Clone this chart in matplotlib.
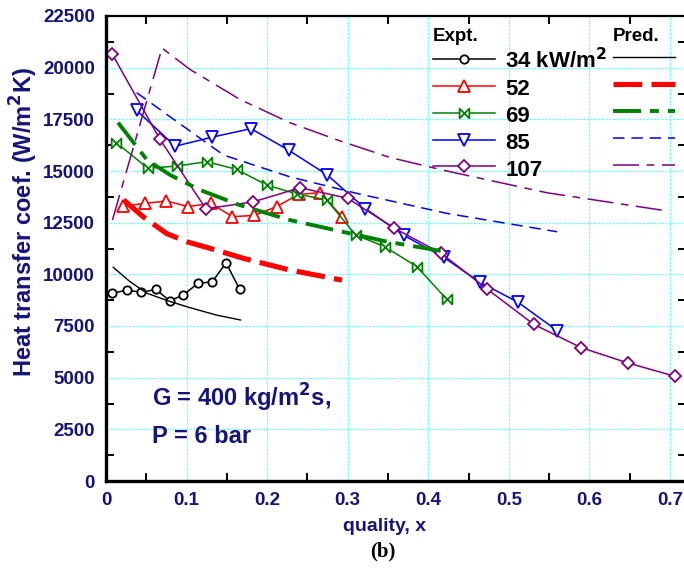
import numpy as np
import matplotlib
matplotlib.use("Agg")
import matplotlib.pyplot as plt
from matplotlib.path import Path

plt.rcParams['font.family'] = ['Liberation Sans', 'DejaVu Sans']

navy = '#14147a'

# experimental data (quality x, h in W/m2K)
x34 = [0.008, 0.026, 0.044, 0.062, 0.079, 0.096, 0.114, 0.132, 0.149, 0.166]
h34 = [9080, 9240, 9130, 9270, 8720, 9000, 9560, 9640, 10560, 9270]
x52 = [0.021, 0.048, 0.075, 0.102, 0.130, 0.157, 0.184, 0.212, 0.239, 0.266, 0.293]
h52 = [13300, 13430, 13550, 13280, 13430, 12790, 12850, 13280, 13870, 13950, 12790]
x69 = [0.013, 0.052, 0.088, 0.125, 0.162, 0.200, 0.237, 0.274, 0.310, 0.346, 0.386, 0.423]
h69 = [16370, 15130, 15240, 15450, 15080, 14310, 13890, 13600, 11900, 11340, 10370, 8790]
x85 = [0.038, 0.086, 0.132, 0.180, 0.227, 0.274, 0.322, 0.370, 0.419, 0.464, 0.511, 0.560]
h85 = [17930, 16200, 16640, 17050, 16000, 14830, 13180, 11880, 10830, 9620, 8660, 7280]
x107 = [0.008, 0.067, 0.124, 0.183, 0.241, 0.300, 0.358, 0.416, 0.473, 0.531, 0.590, 0.648, 0.706]
h107 = [20640, 16530, 13170, 13510, 14190, 13680, 12230, 11020, 9290, 7580, 6450, 5710, 5070]

# predictions
px34 = [0.009, 0.030, 0.051, 0.080, 0.104, 0.137, 0.167]
ph34 = [10340, 9640, 9080, 8680, 8390, 8030, 7790]
px52 = [0.022, 0.046, 0.075, 0.100, 0.129, 0.171, 0.228, 0.293]
ph52 = [13600, 12790, 11980, 11580, 11260, 10770, 10210, 9720]
px69 = [0.015, 0.051, 0.080, 0.117, 0.166, 0.228, 0.303, 0.349, 0.421]
ph69 = [17340, 15530, 14800, 14080, 13350, 12630, 11980, 11580, 11100]
px85 = [0.038, 0.084, 0.146, 0.228, 0.311, 0.423, 0.560]
ph85 = [18790, 17500, 15770, 14720, 13920, 12950, 12060]
px107 = [0.008, 0.0695, 0.104, 0.166, 0.228, 0.291, 0.353, 0.423, 0.547, 0.696]
ph107 = [12630, 20950, 19920, 18470, 17340, 16450, 15650, 15000, 13950, 13070]

labels = ['34 kW/m$\\mathbf{^2}$', '52', '69', '85', '107']

bowtie = Path([(-1, -1), (-1, 1), (1, -1), (1, 1), (-1, -1)],
              [Path.MOVETO, Path.LINETO, Path.LINETO, Path.LINETO, Path.CLOSEPOLY])

fig = plt.figure(figsize=(6.84, 5.71), dpi=100)
ax = fig.add_axes([106/684, 1 - 481/571, 580/684, 465/571])

ax.grid(True, which='major', color='#70ffff', lw=0.9, ls=(0, (2, 1)), zorder=0)

e1, = ax.plot(x34, h34, '-o', color='black', lw=1.1, ms=6, mfc='white', mew=1.3)
e2, = ax.plot(x52, h52, '-^', color='red', lw=1.1, ms=8, mfc='white', mew=1.3)
e3, = ax.plot(x69, h69, '-', marker=bowtie, color='green', lw=1.1, ms=7, mfc='white', mew=1.3)
e4, = ax.plot(x85, h85, '-v', color='blue', lw=1.1, ms=8, mfc='white', mew=1.3)
e5, = ax.plot(x107, h107, '-D', color='purple', lw=1.1, ms=6, mfc='white', mew=1.3)

p1, = ax.plot(px34, ph34, '-', color='black', lw=1.0)
p2, = ax.plot(px52, ph52, '--', color='red', lw=3.7, dashes=(5.6, 1.8))
p3, = ax.plot(px69, ph69, '-.', color='green', lw=2.8, dashes=(7.2, 2.3, 2.3, 2.3))
p4, = ax.plot(px85, ph85, '--', color='blue', lw=1.1, dashes=(7.5, 4.5))
p5, = ax.plot(px107, ph107, '-.', color='purple', lw=1.1, dashes=(17, 5, 5, 5))

ax.set_xlim(0, 0.72)
ax.set_ylim(0, 22500)
ax.set_xticks(np.arange(0, 0.71, 0.1))
ax.set_xticklabels(['0', '0.1', '0.2', '0.3', '0.4', '0.5', '0.6', '0.7'])
ax.set_xticks(np.arange(0.05, 0.72, 0.1), minor=True)
ax.set_yticks(np.arange(0, 22501, 2500))
ax.set_yticks(np.arange(1250, 22500, 2500), minor=True)
ax.tick_params(which='major', length=0, labelsize=13.5, labelcolor=navy, pad=8)
ax.tick_params(which='minor', direction='in', length=6, width=1.4,
               top=True, right=True)
for lab in ax.get_xticklabels() + ax.get_yticklabels():
    lab.set_fontweight('bold')
for s in ['left', 'bottom']:
    ax.spines[s].set_linewidth(2.4)
for s in ['top', 'right']:
    ax.spines[s].set_linewidth(1.6)

ax.set_ylabel('Heat transfer coef. (W/m$\\mathbf{^2}$K)', fontsize=17,
              fontweight='bold', color=navy)
ax.yaxis.set_label_coords(-0.113, 0.558)
ax.set_xlabel('quality, x', fontsize=14, fontweight='bold', color=navy)
ax.xaxis.set_label_coords(0.481, -0.08)

ax.text(0.079, 0.159, 'G = 400 kg/m$\\mathbf{^2}$s,', transform=ax.transAxes,
        fontsize=17, fontweight='bold', color=navy, va='baseline')
ax.text(0.079, 0.082, 'P = 6 bar', transform=ax.transAxes,
        fontsize=17, fontweight='bold', color=navy, va='baseline')

fig.text(383/684, 1 - 551/571, '(b)', fontsize=15, fontweight='bold',
         family='Liberation Serif', ha='center', va='center')

leg_kw = dict(frameon=False, loc='upper left', borderpad=0, borderaxespad=0,
              handlelength=2.8, handleheight=1.15, handletextpad=0.45,
              labelspacing=0.15,
              prop={'weight': 'bold', 'size': 16},
              title_fontproperties={'weight': 'bold', 'size': 13.5},
              alignment='left')
leg1 = ax.legend([e1, e2, e3, e4, e5], labels, title='Expt.',
                 bbox_to_anchor=(0.564, 0.975), **leg_kw)
ax.add_artist(leg1)
leg2 = ax.legend([p1, p2, p3, p4, p5], [''] * 5, title='Pred.',
                 bbox_to_anchor=(0.874, 0.975), **leg_kw)

fig.savefig('out.png', dpi=100)
